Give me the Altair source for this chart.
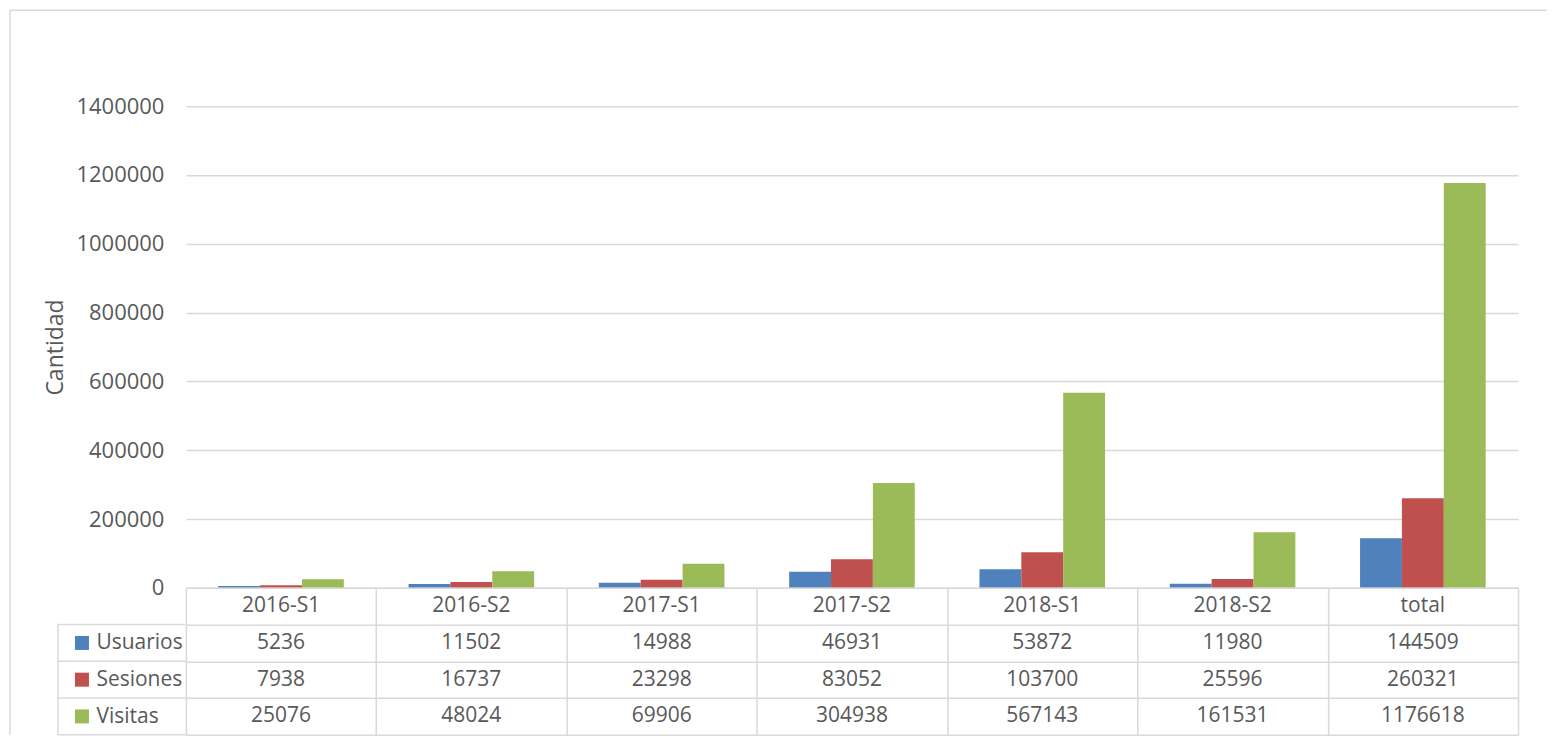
import altair as alt
import pandas as pd

categories = ["2016-S1", "2016-S2", "2017-S1", "2017-S2", "2018-S1", "2018-S2", "total"]
usuarios = [5236, 11502, 14988, 46931, 53872, 11980, 144509]
sesiones = [7938, 16737, 23298, 83052, 103700, 25596, 260321]
visitas = [25076, 48024, 69906, 304938, 567143, 161531, 1176618]
series = ["Usuarios", "Sesiones", "Visitas"]
colors = ["#4f81bd", "#c0504d", "#9bbb59"]
y_ticks = [0, 200000, 400000, 600000, 800000, 1000000, 1200000, 1400000]

rows = []
for s, vals in zip(series, [usuarios, sesiones, visitas]):
    for c, v in zip(categories, vals):
        rows.append({"cat": c, "serie": s, "valor": v})
df = pd.DataFrame(rows)

trows = [{"cat": c, "row": "h", "text": c} for c in categories]
for s, vals in zip(series, [usuarios, sesiones, visitas]):
    for c, v in zip(categories, vals):
        trows.append({"cat": c, "row": s, "text": str(v)})
tdf = pd.DataFrame(trows)
row_domain = ["h"] + series

FONT = "Open Sans"
TXT = "#595959"
GRID = "#d9d9d9"
FS = 21
W, H, TH = 1333, 482, 147

color = alt.Color("serie:N", scale=alt.Scale(domain=series, range=colors), legend=None)

bars = alt.Chart(df).mark_bar().encode(
    x=alt.X("cat:N", sort=categories,
            scale=alt.Scale(paddingInner=0.34, paddingOuter=0.17), axis=None),
    xOffset=alt.XOffset("serie:N", sort=series, scale=alt.Scale(domain=series)),
    y=alt.Y("valor:Q", scale=alt.Scale(domain=[0, 1400000]),
            axis=alt.Axis(values=y_ticks, format="d", title="Cantidad", grid=True,
                          gridColor=GRID, domain=False, ticks=False, labelPadding=22,
                          labelFontSize=22, labelColor=TXT, labelFont=FONT,
                          titleFontSize=23, titleColor=TXT, titleFont=FONT,
                          titleFontWeight="normal", titlePadding=8)),
    color=color,
)

border = pd.DataFrame({"k": [0]})
top_line = alt.Chart(border).mark_rule(color=GRID, strokeWidth=1.5).encode(
    x=alt.value(-176), x2=alt.value(1362), y=alt.value(-96))
left_line = alt.Chart(border).mark_rule(color=GRID, strokeWidth=1.5).encode(
    x=alt.value(-176), y=alt.value(-96), y2=alt.value(H + TH))

top = alt.layer(bars, top_line, left_line).properties(width=W, height=H)

x_tab = alt.X("cat:N", sort=categories, scale=alt.Scale(paddingInner=0, paddingOuter=0),
              axis=alt.Axis(title=None, labels=False, ticks=False, domain=False, grid=True,
                            gridColor=GRID, tickBand="extent"))
y_tab = alt.Y("row:N", sort=row_domain,
              scale=alt.Scale(domain=row_domain, paddingInner=0, paddingOuter=0),
              axis=alt.Axis(title=None, grid=True, gridColor=GRID, tickBand="extent",
                            ticks=False, domain=False,
                            labelExpr="datum.value == 'h' ? '' : datum.value",
                            labelAlign="left", labelPadding=90, labelFontSize=FS,
                            labelColor=TXT, labelFont=FONT))

cells = alt.Chart(tdf).mark_text(font=FONT, fontSize=FS, color=TXT).encode(
    x=x_tab, y=y_tab, text="text:N")

sdf = pd.DataFrame({"row": series, "serie": series})
keys = alt.Chart(sdf).mark_square(size=196, opacity=1).encode(
    x=alt.value(-104), y=alt.Y("row:N", sort=row_domain), color=color)

row_lines = alt.Chart(sdf).mark_rule(color=GRID, strokeWidth=1.5).encode(
    y=alt.Y("row:N", sort=row_domain, bandPosition=0),
    x=alt.value(-128), x2=alt.value(0))
bottom_line = alt.Chart(border).mark_rule(color=GRID, strokeWidth=1.5).encode(
    y=alt.value(TH), x=alt.value(-128), x2=alt.value(0))
first = pd.DataFrame({"row": ["Usuarios"]})
vert_line = alt.Chart(first).mark_rule(color=GRID, strokeWidth=1.5).encode(
    y=alt.Y("row:N", sort=row_domain, bandPosition=0),
    y2=alt.value(TH), x=alt.value(-128))

table = alt.layer(cells, keys, row_lines, bottom_line, vert_line).properties(width=W, height=TH)

chart = alt.vconcat(top, table, spacing=0, bounds="flush").configure_view(
    stroke="transparent").configure_axis(gridWidth=1.5).properties(
    padding={"left": 0, "top": 0, "right": 0, "bottom": 0})

chart.save("out.html", embed_options={"renderer": "svg", "actions": False})
